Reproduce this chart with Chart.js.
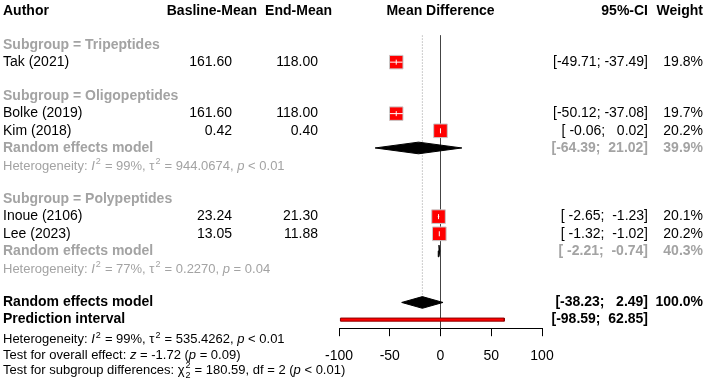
<!DOCTYPE html>
<html>
<head>
<meta charset="utf-8">
<script src="https://cdn.jsdelivr.net/npm/chart.js@4.4.1/dist/chart.umd.min.js"></script>
<style>
body { margin: 0; background: #fff; }
</style>
</head>
<body>
<canvas id="forest" width="708" height="382"></canvas>
<script>
// STUDY DATA
const studyNames = ['Tak (2021)', 'Bolke (2019)', 'Kim (2018)', 'Inoue (2106)', 'Lee (2023)'];
const studyRows = [3, 6, 7, 12, 13];
const baselineMean = [161.60, 161.60, 0.42, 23.24, 13.05];
const endMean = [118.00, 118.00, 0.40, 21.30, 11.88];
const mdEst = [-43.60, -43.60, -0.02, -1.94, -1.17];
const mdLower = [-49.71, -50.12, -0.06, -2.65, -1.32];
const mdUpper = [-37.49, -37.08, 0.02, -1.23, -1.02];
const weights = [19.8, 19.7, 20.2, 20.1, 20.2];

// SUBGROUPS
const subgroupNames = ['Tripeptides', 'Oligopeptides', 'Polypeptides'];
const subgroupRows = [2, 5, 11];
const subModelRows = [8, 14];
const subModelEst = [-21.69, -1.48];
const subModelLower = [-64.39, -2.21];
const subModelUpper = [21.02, -0.74];
const subModelWeight = [39.9, 40.3];
const subI2 = ['99%', '77%'];
const subTau2 = ['944.0674', '0.2270'];
const subP = ['< 0.01', '= 0.04'];

// OVERALL
const overallRow = 17;
const overallEst = -17.87;
const overallLower = -38.23;
const overallUpper = 2.49;
const piRow = 18;
const piLower = -98.59;
const piUpper = 62.85;
const overallI2 = '99%';
const overallTau2 = '535.4262';
const overallP = '< 0.01';
const overallZ = '-1.72';
const overallZp = '= 0.09';
const subDiffChi = '180.59';
const subDiffDf = '2';
const subDiffP = '< 0.01';

const xTicks = [-100, -50, 0, 50, 100];

const FONT = '"Liberation Sans", Arial, sans-serif';
const GREY = '#a3a3a3';

const fmt = v => v.toFixed(2).padStart(6, ' ');
const ciText = (l, u) => '[' + fmt(l) + '; ' + fmt(u) + ']';

// diamond polygon for a pooled estimate
function diamond(est, lo, hi, row) {
  const h = 0.34;
  return [
    {x: lo, y: row}, {x: est, y: row - h}, {x: hi, y: row}, {x: est, y: row + h}, {x: lo, y: row}
  ];
}

const datasets = [];

// reference lines
datasets.push({
  data: [{x: 0, y: 1.45}, {x: 0, y: 18.5}],
  showLine: true, borderColor: '#444', borderWidth: 1, pointRadius: 0, order: 6
});
datasets.push({
  data: [{x: overallEst, y: 1.45}, {x: overallEst, y: overallRow}],
  showLine: true, borderColor: '#999', borderWidth: 1, borderDash: [1, 2], pointRadius: 0, order: 6
});

// prediction interval bar
datasets.push({
  data: [
    {x: piLower, y: piRow - 0.09}, {x: piUpper, y: piRow - 0.09},
    {x: piUpper, y: piRow + 0.09}, {x: piLower, y: piRow + 0.09}, {x: piLower, y: piRow - 0.09}
  ],
  showLine: true, fill: 'shape', backgroundColor: '#ff0000', borderColor: '#8b0000',
  borderWidth: 1, pointRadius: 0, order: 4
});

// subgroup and overall diamonds
subModelRows.forEach((r, i) => {
  datasets.push({
    data: diamond(subModelEst[i], subModelLower[i], subModelUpper[i], r),
    showLine: true, fill: 'shape', backgroundColor: '#000', borderColor: '#000',
    borderWidth: 1, pointRadius: 0, order: 3
  });
});
datasets.push({
  data: diamond(overallEst, overallLower, overallUpper, overallRow),
  showLine: true, fill: 'shape', backgroundColor: '#000', borderColor: '#000',
  borderWidth: 1, pointRadius: 0, order: 3
});

// study squares, size from weight
datasets.push({
  data: studyRows.map((r, i) => ({x: mdEst[i], y: r})),
  pointStyle: 'rect',
  pointRadius: weights.map(w => 9.6 * Math.sqrt(w / 20)),
  backgroundColor: '#ff0000',
  borderColor: '#c8c8c8',
  borderWidth: 1,
  order: 2
});

// CI lines drawn white inside the squares
studyRows.forEach((r, i) => {
  datasets.push({
    data: [{x: mdLower[i], y: r}, {x: mdUpper[i], y: r}],
    showLine: true, borderColor: '#fff', borderWidth: 1, pointRadius: 0, order: 1
  });
});
datasets.push({
  data: studyRows.map((r, i) => ({x: mdEst[i], y: r})),
  pointStyle: 'line', rotation: 90, pointRadius: 2.5,
  borderColor: '#fff', borderWidth: 1, order: 0
});

datasets.forEach(d => { d.clip = false; });

function put(ctx, str, x, y, opt) {
  ctx.font = (opt.bold ? 'bold ' : '') + (opt.size || 14) + 'px ' + FONT;
  ctx.fillStyle = opt.color || '#000';
  ctx.textAlign = opt.align || 'left';
  ctx.textBaseline = 'middle';
  ctx.fillText(str, x, y);
}

// text with italic / superscript pieces
function rich(ctx, parts, x, y, size, color) {
  const base = y + size * 0.36;
  ctx.textAlign = 'left';
  ctx.textBaseline = 'alphabetic';
  ctx.fillStyle = color;
  let cx = x;
  parts.forEach(([t, s]) => {
    if (s === 'sup' || s === 'supsub') {
      ctx.font = Math.round(size * 0.72) + 'px ' + FONT;
      ctx.fillText(t, cx + 1, base - size * 0.42);
      if (s === 'supsub') ctx.fillText(t, cx + 1, base + size * 0.3);
      cx += ctx.measureText(t).width + 1.5;
    } else {
      ctx.font = (s === 'i' ? 'italic ' : '') + size + 'px ' + FONT;
      ctx.fillText(t, cx, base);
      cx += ctx.measureText(t).width;
    }
  });
}

const hetParts = (i2, tau2, p) => [
  ['Heterogeneity: '], ['I', 'i'], ['2', 'sup'], [' = ' + i2 + ', '], ['τ'], ['2', 'sup'],
  [' = ' + tau2 + ', '], ['p', 'i'], [' ' + p]
];

const COL_AUTHOR = 3, COL_BASE = 232, COL_END = 318, COL_CI = 648, COL_W = 703;

const forestText = {
  id: 'forestText',
  afterDraw(chart) {
    const ctx = chart.ctx;
    const Y = r => chart.scales.y.getPixelForValue(r);
    const X = v => chart.scales.x.getPixelForValue(v);
    ctx.save();

    // header
    put(ctx, 'Author', COL_AUTHOR, Y(0), {bold: true});
    put(ctx, 'Basline-Mean', 257, Y(0), {bold: true, align: 'right'});
    put(ctx, 'End-Mean', 332, Y(0), {bold: true, align: 'right'});
    put(ctx, 'Mean Difference', X(0), Y(0), {bold: true, align: 'center'});
    put(ctx, '95%-CI', COL_CI, Y(0), {bold: true, align: 'right'});
    put(ctx, 'Weight', COL_W, Y(0), {bold: true, align: 'right'});

    subgroupNames.forEach((n, i) => {
      put(ctx, 'Subgroup = ' + n, COL_AUTHOR, Y(subgroupRows[i]), {bold: true, color: GREY});
    });

    studyNames.forEach((n, i) => {
      const y = Y(studyRows[i]);
      put(ctx, n, COL_AUTHOR, y, {});
      put(ctx, baselineMean[i].toFixed(2), COL_BASE, y, {align: 'right'});
      put(ctx, endMean[i].toFixed(2), COL_END, y, {align: 'right'});
      put(ctx, ciText(mdLower[i], mdUpper[i]), COL_CI, y, {align: 'right'});
      put(ctx, weights[i].toFixed(1) + '%', COL_W, y, {align: 'right'});
    });

    subModelRows.forEach((r, i) => {
      const y = Y(r);
      put(ctx, 'Random effects model', COL_AUTHOR, y, {bold: true, color: GREY});
      put(ctx, ciText(subModelLower[i], subModelUpper[i]), COL_CI, y, {bold: true, color: GREY, align: 'right'});
      put(ctx, subModelWeight[i].toFixed(1) + '%', COL_W, y, {bold: true, color: GREY, align: 'right'});
      rich(ctx, hetParts(subI2[i], subTau2[i], subP[i]), COL_AUTHOR, Y(r + 1), 13, GREY);
    });

    put(ctx, 'Random effects model', COL_AUTHOR, Y(overallRow), {bold: true});
    put(ctx, ciText(overallLower, overallUpper), COL_CI, Y(overallRow), {bold: true, align: 'right'});
    put(ctx, '100.0%', COL_W, Y(overallRow), {bold: true, align: 'right'});
    put(ctx, 'Prediction interval', COL_AUTHOR, Y(piRow), {bold: true});
    put(ctx, ciText(piLower, piUpper), COL_CI, Y(piRow), {bold: true, align: 'right'});

    rich(ctx, hetParts(overallI2, overallTau2, overallP), COL_AUTHOR, Y(19.1), 13, '#000');
    rich(ctx, [['Test for overall effect: '], ['z', 'i'], [' = ' + overallZ + ' ('], ['p', 'i'], [' ' + overallZp + ')']],
      COL_AUTHOR, Y(20.0), 13, '#000');
    rich(ctx, [['Test for subgroup differences: '], ['χ'], [subDiffDf, 'supsub'],
      [' = ' + subDiffChi + ', df = ' + subDiffDf + ' ('], ['p', 'i'], [' ' + subDiffP + ')']],
      COL_AUTHOR, Y(20.88), 13, '#000');

    ctx.restore();
  }
};

new Chart(document.getElementById('forest'), {
  type: 'scatter',
  data: { datasets: datasets },
  options: {
    responsive: false,
    animation: false,
    events: [],
    layout: { padding: { left: 339, right: 166, top: 8, bottom: 5 } },
    plugins: { legend: { display: false }, tooltip: { enabled: false } },
    scales: {
      x: {
        type: 'linear',
        min: -100,
        max: 100,
        position: 'bottom',
        afterBuildTicks: s => { s.ticks = xTicks.map(v => ({value: v})); },
        grid: { drawOnChartArea: false, drawTicks: true, tickLength: 8, color: '#000' },
        border: { display: true, color: '#000' },
        ticks: { color: '#000', padding: 12, maxRotation: 0, font: { family: FONT, size: 14 } }
      },
      y: {
        display: false,
        min: 0,
        max: 18.5,
        reverse: true
      }
    }
  },
  plugins: [forestText]
});
</script>
</body>
</html>
